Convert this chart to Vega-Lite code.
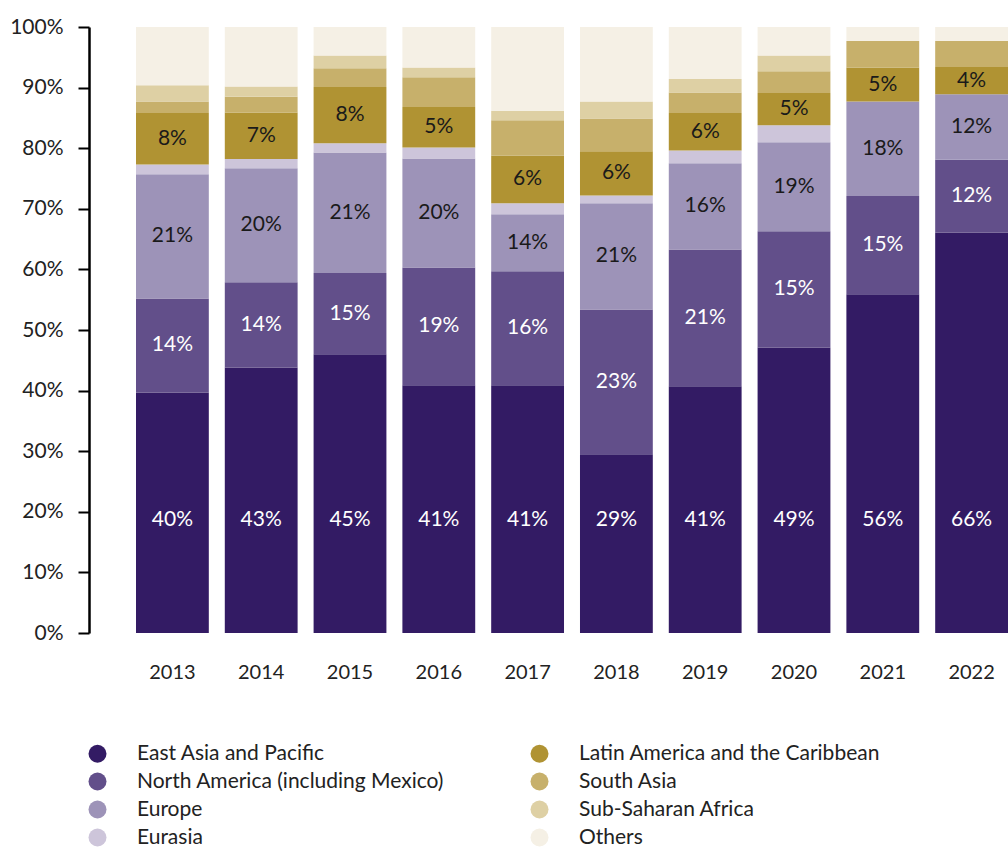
{
  "$schema": "https://vega.github.io/schema/vega-lite/v6.json",
  "width": 872,
  "height": 606,
  "autosize": {"type": "none"},
  "padding": {"left": 136, "top": 27, "right": 0, "bottom": 215},
  "background": "white",
  "config": {"font": "Lato", "view": {"stroke": null}},
  "data": {
    "values": [
      {"year": "2013", "region": "East Asia and Pacific", "value": 39.7, "label": "40%"},
      {"year": "2013", "region": "North America (including Mexico)", "value": 15.5, "label": "14%"},
      {"year": "2013", "region": "Europe", "value": 20.5, "label": "21%"},
      {"year": "2013", "region": "Eurasia", "value": 1.6},
      {"year": "2013", "region": "Latin America and the Caribbean", "value": 8.5, "label": "8%"},
      {"year": "2013", "region": "South Asia", "value": 1.9},
      {"year": "2013", "region": "Sub-Saharan Africa", "value": 2.7},
      {"year": "2013", "region": "Others", "value": 9.6},

      {"year": "2014", "region": "East Asia and Pacific", "value": 43.8, "label": "43%"},
      {"year": "2014", "region": "North America (including Mexico)", "value": 14.1, "label": "14%"},
      {"year": "2014", "region": "Europe", "value": 18.8, "label": "20%"},
      {"year": "2014", "region": "Eurasia", "value": 1.5},
      {"year": "2014", "region": "Latin America and the Caribbean", "value": 7.7, "label": "7%"},
      {"year": "2014", "region": "South Asia", "value": 2.6},
      {"year": "2014", "region": "Sub-Saharan Africa", "value": 1.7},
      {"year": "2014", "region": "Others", "value": 9.8},

      {"year": "2015", "region": "East Asia and Pacific", "value": 46.0, "label": "45%"},
      {"year": "2015", "region": "North America (including Mexico)", "value": 13.4, "label": "15%"},
      {"year": "2015", "region": "Europe", "value": 19.9, "label": "21%"},
      {"year": "2015", "region": "Eurasia", "value": 1.5},
      {"year": "2015", "region": "Latin America and the Caribbean", "value": 9.3, "label": "8%"},
      {"year": "2015", "region": "South Asia", "value": 3.1},
      {"year": "2015", "region": "Sub-Saharan Africa", "value": 2.1},
      {"year": "2015", "region": "Others", "value": 4.7},

      {"year": "2016", "region": "East Asia and Pacific", "value": 40.9, "label": "41%"},
      {"year": "2016", "region": "North America (including Mexico)", "value": 19.4, "label": "19%"},
      {"year": "2016", "region": "Europe", "value": 18.0, "label": "20%"},
      {"year": "2016", "region": "Eurasia", "value": 1.8},
      {"year": "2016", "region": "Latin America and the Caribbean", "value": 6.7, "label": "5%"},
      {"year": "2016", "region": "South Asia", "value": 4.9},
      {"year": "2016", "region": "Sub-Saharan Africa", "value": 1.6},
      {"year": "2016", "region": "Others", "value": 6.7},

      {"year": "2017", "region": "East Asia and Pacific", "value": 40.9, "label": "41%"},
      {"year": "2017", "region": "North America (including Mexico)", "value": 18.8, "label": "16%"},
      {"year": "2017", "region": "Europe", "value": 9.4, "label": "14%"},
      {"year": "2017", "region": "Eurasia", "value": 1.8},
      {"year": "2017", "region": "Latin America and the Caribbean", "value": 7.9, "label": "6%"},
      {"year": "2017", "region": "South Asia", "value": 5.8},
      {"year": "2017", "region": "Sub-Saharan Africa", "value": 1.6},
      {"year": "2017", "region": "Others", "value": 13.8},

      {"year": "2018", "region": "East Asia and Pacific", "value": 29.5, "label": "29%"},
      {"year": "2018", "region": "North America (including Mexico)", "value": 23.9, "label": "23%"},
      {"year": "2018", "region": "Europe", "value": 17.5, "label": "21%"},
      {"year": "2018", "region": "Eurasia", "value": 1.3},
      {"year": "2018", "region": "Latin America and the Caribbean", "value": 7.3, "label": "6%"},
      {"year": "2018", "region": "South Asia", "value": 5.4},
      {"year": "2018", "region": "Sub-Saharan Africa", "value": 2.8},
      {"year": "2018", "region": "Others", "value": 12.3},

      {"year": "2019", "region": "East Asia and Pacific", "value": 40.7, "label": "41%"},
      {"year": "2019", "region": "North America (including Mexico)", "value": 22.6, "label": "21%"},
      {"year": "2019", "region": "Europe", "value": 14.2, "label": "16%"},
      {"year": "2019", "region": "Eurasia", "value": 2.1},
      {"year": "2019", "region": "Latin America and the Caribbean", "value": 6.2, "label": "6%"},
      {"year": "2019", "region": "South Asia", "value": 3.4},
      {"year": "2019", "region": "Sub-Saharan Africa", "value": 2.2},
      {"year": "2019", "region": "Others", "value": 8.6},

      {"year": "2020", "region": "East Asia and Pacific", "value": 47.1, "label": "49%"},
      {"year": "2020", "region": "North America (including Mexico)", "value": 19.2, "label": "15%"},
      {"year": "2020", "region": "Europe", "value": 14.7, "label": "19%"},
      {"year": "2020", "region": "Eurasia", "value": 2.8},
      {"year": "2020", "region": "Latin America and the Caribbean", "value": 5.3, "label": "5%"},
      {"year": "2020", "region": "South Asia", "value": 3.6},
      {"year": "2020", "region": "Sub-Saharan Africa", "value": 2.6},
      {"year": "2020", "region": "Others", "value": 4.7},

      {"year": "2021", "region": "East Asia and Pacific", "value": 55.9, "label": "56%"},
      {"year": "2021", "region": "North America (including Mexico)", "value": 16.2, "label": "15%"},
      {"year": "2021", "region": "Europe", "value": 15.6, "label": "18%"},
      {"year": "2021", "region": "Latin America and the Caribbean", "value": 5.6, "label": "5%"},
      {"year": "2021", "region": "South Asia", "value": 4.4},
      {"year": "2021", "region": "Others", "value": 2.3},

      {"year": "2022", "region": "East Asia and Pacific", "value": 66.1, "label": "66%"},
      {"year": "2022", "region": "North America (including Mexico)", "value": 12.0, "label": "12%"},
      {"year": "2022", "region": "Europe", "value": 10.8, "label": "12%"},
      {"year": "2022", "region": "Latin America and the Caribbean", "value": 4.5, "label": "4%"},
      {"year": "2022", "region": "South Asia", "value": 4.3},
      {"year": "2022", "region": "Others", "value": 2.3}
    ]
  },
  "transform": [
    {"calculate": "indexof(['East Asia and Pacific','North America (including Mexico)','Europe','Eurasia','Latin America and the Caribbean','South Asia','Sub-Saharan Africa','Others'], datum.region)", "as": "order"}
  ],
  "encoding": {
    "x": {
      "field": "year",
      "type": "ordinal",
      "scale": {"paddingInner": 0.18, "paddingOuter": 0},
      "axis": {
        "title": null,
        "domain": false,
        "ticks": false,
        "labelAngle": 0,
        "labelFont": "Lato",
        "labelFontSize": 20,
        "labelFontWeight": 400,
        "labelColor": "#222222",
        "labelPadding": 29
      }
    }
  },
  "layer": [
    {
      "mark": {"type": "bar"},
      "encoding": {
        "y": {
          "field": "value",
          "type": "quantitative",
          "stack": "normalize",
          "scale": {"domain": [0, 1]},
          "axis": {
            "title": null,
            "format": ".0%",
            "values": [0, 0.1, 0.2, 0.3, 0.4, 0.5, 0.6, 0.7, 0.8, 0.9, 1],
            "grid": false,
            "offset": 47,
            "domainColor": "#000000",
            "domainWidth": 2.5,
            "tickColor": "#000000",
            "tickWidth": 2,
            "tickSize": 11,
            "labelFont": "Lato",
            "labelFontSize": 21,
            "labelFontWeight": 400,
            "labelColor": "#222222",
            "labelPadding": 15
          }
        },
        "order": {"field": "order", "type": "quantitative"},
        "color": {
          "field": "region",
          "type": "nominal",
          "scale": {
            "domain": ["East Asia and Pacific", "North America (including Mexico)", "Europe", "Eurasia", "Latin America and the Caribbean", "South Asia", "Sub-Saharan Africa", "Others"],
            "range": ["#331b64", "#624f8a", "#9d93b8", "#cdc5da", "#b09333", "#c7b06b", "#ded0a4", "#f5f0e5"]
          },
          "legend": {
            "orient": "none",
            "legendX": -49,
            "legendY": 716,
            "columns": 2,
            "title": null,
            "padding": 0,
            "symbolType": "circle",
            "symbolSize": 324,
            "symbolStrokeWidth": 0,
            "symbolOpacity": 1,
            "labelFont": "Lato",
            "labelFontSize": 21,
            "labelFontWeight": 400,
            "labelColor": "#222222",
            "labelOffset": 29,
            "labelLimit": 600,
            "columnPadding": 84,
            "rowPadding": 6
          }
        }
      }
    },
    {
      "transform": [
        {"stack": "value", "groupby": ["year"], "sort": [{"field": "order", "order": "ascending"}], "offset": "normalize", "as": ["y0", "y1"]},
        {"calculate": "datum.order === 0 ? 0.186 : (datum.y0 + datum.y1) / 2", "as": "mid"},
        {"filter": "datum.label != null"}
      ],
      "mark": {"type": "text", "font": "Lato", "fontSize": 21, "fontWeight": 400, "align": "center", "baseline": "middle"},
      "encoding": {
        "y": {"field": "mid", "type": "quantitative"},
        "text": {"field": "label", "type": "nominal"},
        "color": {"condition": {"test": "datum.order <= 1", "value": "#ffffff"}, "value": "#1a1a1a"}
      }
    }
  ]
}
